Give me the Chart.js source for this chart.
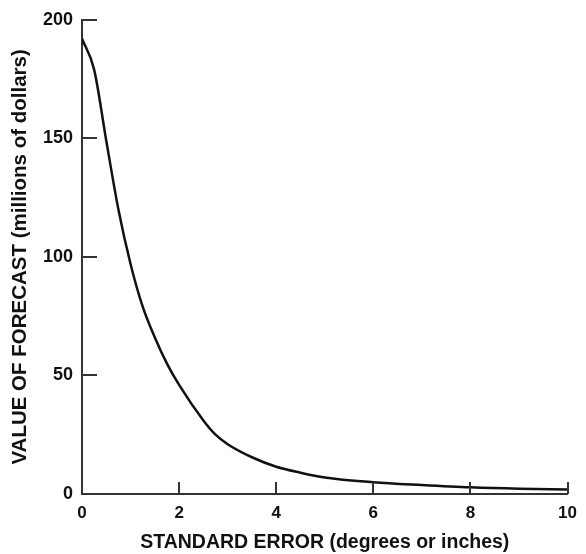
<!DOCTYPE html>
<html>
<head>
<meta charset="utf-8">
<script src="https://cdn.jsdelivr.net/npm/chart.js@4/dist/chart.umd.min.js"></script>
<style>
html,body{margin:0;padding:0;background:#fff;}
#wrap{width:586px;height:554px;}
</style>
</head>
<body>
<div id="wrap"><canvas id="c" width="586" height="554"></canvas></div>
<script>
// Data
const standardError = [0, 0.25, 0.5, 0.75, 1.0, 1.25, 1.5, 1.75, 2.0, 2.5, 2.75, 3.0, 3.5, 4.0, 4.5, 5.0, 6.0, 7.0, 8.0, 9.0, 10.0];
const forecastValue = [192, 179, 149, 120, 97, 79, 66, 55, 46, 31, 25, 21, 15.5, 11.5, 9, 7, 5, 3.8, 2.8, 2.2, 1.9];
const xTicks = [0, 2, 4, 6, 8, 10];
const yTicks = [0, 50, 100, 150, 200];
const xTitle = 'STANDARD ERROR (degrees or inches)';
const yTitle = 'VALUE OF FORECAST (millions of dollars)';

const points = standardError.map((x, i) => ({x: x, y: forecastValue[i]}));
const FONT = '"Liberation Sans", Arial, Helvetica, sans-serif';

const inwardTicks = {
  id: 'inwardTicks',
  afterDatasetsDraw(chart) {
    const ctx = chart.ctx;
    const xs = chart.scales.x, ys = chart.scales.y;
    const a = chart.chartArea;
    ctx.save();
    ctx.strokeStyle = '#333';
    ctx.lineWidth = 2;
    ctx.beginPath();
    yTicks.forEach(v => {
      if (v === 0) return;
      const py = Math.round(ys.getPixelForValue(v));
      ctx.moveTo(a.left, py);
      ctx.lineTo(a.left + 15, py);
    });
    xTicks.forEach(v => {
      if (v === 0) return;
      const px = Math.round(xs.getPixelForValue(v));
      ctx.moveTo(px, a.bottom);
      ctx.lineTo(px, a.bottom - 12);
    });
    ctx.stroke();
    ctx.restore();
  }
};

new Chart(document.getElementById('c'), {
  type: 'line',
  data: {
    datasets: [{
      data: points,
      borderColor: '#111',
      borderWidth: 2.5,
      pointRadius: 0,
      fill: false,
      cubicInterpolationMode: 'monotone'
    }]
  },
  options: {
    responsive: false,
    animation: false,
    devicePixelRatio: 1,
    layout: {padding: {top: 13, right: 16, left: 0, bottom: 0}},
    plugins: {legend: {display: false}, tooltip: {enabled: false}},
    scales: {
      x: {
        type: 'linear',
        min: 0, max: 10,
        afterBuildTicks: s => { s.ticks = xTicks.map(v => ({value: v})); },
        afterFit: s => { s.height = 60; },
        grid: {display: false, drawTicks: false},
        border: {display: true, color: '#333', width: 2},
        ticks: {
          color: '#111', padding: 9, maxRotation: 0, autoSkip: false,
          font: {family: FONT, size: 17, weight: 'bold'}
        },
        title: {
          display: true, text: xTitle, color: '#111',
          font: {family: FONT, size: 19.5, weight: 'bold'},
          padding: {top: 0, bottom: 0}
        }
      },
      y: {
        type: 'linear',
        min: 0, max: 200,
        afterBuildTicks: s => { s.ticks = yTicks.map(v => ({value: v})); },
        afterFit: s => { s.width = 82; },
        grid: {display: false, drawTicks: false},
        border: {display: true, color: '#333', width: 2},
        ticks: {
          color: '#111', padding: 9, autoSkip: false,
          font: {family: FONT, size: 18, weight: 'bold'}
        },
        title: {
          display: true, text: yTitle, color: '#111',
          font: {family: FONT, size: 20.5, weight: 'bold'},
          padding: {top: 8, bottom: 0}
        }
      }
    }
  },
  plugins: [inwardTicks]
});
</script>
</body>
</html>
